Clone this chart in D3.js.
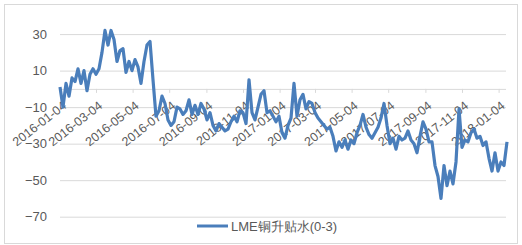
<!DOCTYPE html>
<html>
<head>
<meta charset="utf-8">
<script src="https://cdn.jsdelivr.net/npm/d3@7"></script>
<style>
  html, body { margin: 0; padding: 0; background: #fff; }
  svg text { font-family: "Liberation Sans", Arial, sans-serif; fill: #595959; }
</style>
</head>
<body>
<script>
const w = 522;
const h = 245;

const seriesName = 'LME铜升贴水(0-3)';
const startDate = '2016-01-04';
const stepDays = 5;

const values = [
	1, -10, 3, -4, 6, 4, 11, 3, 10, -1,
	8, 11, 8, 11, 20, 32, 24, 32, 27, 15,
	21, 22, 9, 15, 10, 16, 12, 3, 15, 24,
	26, 5, -15, -12, -4, -8, -17, -20, -18, -10,
	-11, -14, -12, -6, -14, -9, -14, -8, -11, -17,
	-13, -20, -23, -19, -21, -23, -22, -18, -15, -18,
	-12, -13, -19, 5, -13, -17, -10, -3, -1, -13,
	-12, -15, -18, -15, -24, -27, -20, -16, 3, -15,
	-6, -3, -11, -7, -8, -13, -16, -18, -20, -22,
	-21, -26, -34, -29, -32, -28, -33, -28, -30, -24,
	-20, -14, -21, -25, -27, -24, -21, -16, -8, -20,
	-30, -27, -33, -26, -28, -27, -23, -28, -30, -35,
	-26, -18, -22, -29, -29, -42, -48, -60, -42, -53,
	-45, -52, -40, -11, -32, -28, -29, -24, -22, -27,
	-26, -31, -29, -38, -45, -35, -45, -40, -42, -29
];

const tickLabels = [
	'2016-01-04', '2016-03-04', '2016-05-04', '2016-07-04', '2016-09-04', '2016-11-04',
	'2017-01-04', '2017-03-04', '2017-05-04', '2017-07-04', '2017-09-04', '2017-11-04',
	'2018-01-04'
];

const yTicks = [30, 10, -10, -30, -50, -70];

const parse = d3.timeParse('%Y-%m-%d');
const fmt = d3.timeFormat('%Y-%m-%d');
const start = parse(startDate);
const data = values.map((v, i) => ({ date: d3.timeDay.offset(start, i * stepDays), value: v }));

const svg = d3.select('body').append('svg')
	.attr('width', w)
	.attr('height', h);

svg.append('rect')
	.attr('x', 4.5)
	.attr('y', 4.5)
	.attr('width', 513)
	.attr('height', 239)
	.attr('fill', '#fff')
	.attr('stroke', '#d9d9d9');

const x = d3.scaleTime()
	.domain(d3.extent(data, d => d.date))
	.range([60, 507]);

const y = d3.scaleLinear()
	.domain([-70, 30])
	.range([216.7, 34.1]);

// gridlines + y labels
const yAxis = d3.axisLeft(y)
	.tickValues(yTicks)
	.tickSize(-446)
	.tickPadding(13);

svg.append('g')
	.attr('transform', 'translate(60,0)')
	.call(yAxis)
	.call(g => g.select('.domain').remove())
	.call(g => g.selectAll('line').attr('stroke', '#d9d9d9'))
	.call(g => g.selectAll('text').attr('font-size', 13).attr('fill', '#595959'));

// x axis on the zero line
const xAxis = d3.axisBottom(x)
	.tickValues(tickLabels.map(parse))
	.tickFormat(fmt)
	.tickSize(4)
	.tickSizeOuter(0);

const xg = svg.append('g')
	.attr('transform', `translate(0,${y(0)})`)
	.call(xAxis);

xg.select('.domain').attr('stroke', '#d9d9d9').attr('d', `M60,0.5H506`);
xg.selectAll('line').attr('stroke', '#d9d9d9');
xg.selectAll('text')
	.attr('font-size', 12.5)
	.attr('fill', '#595959')
	.attr('text-anchor', 'end')
	.attr('transform', 'translate(4,15) rotate(-38)')
	.attr('dy', '0.35em')
	.attr('y', 0)
	.attr('x', 0);

const line = d3.line()
	.x(d => x(d.date))
	.y(d => y(d.value));

svg.append('path')
	.datum(data)
	.attr('d', line)
	.attr('fill', 'none')
	.attr('stroke', '#4a7ebb')
	.attr('stroke-width', 3.2)
	.attr('stroke-linejoin', 'round');

// legend
const legend = svg.append('g').attr('transform', 'translate(197,226)');
legend.append('line')
	.attr('x1', 0).attr('x2', 31)
	.attr('stroke', '#4a7ebb')
	.attr('stroke-width', 3);
legend.append('text')
	.attr('x', 34)
	.attr('dy', '0.35em')
	.attr('font-size', 13)
	.text(seriesName);
</script>
</body>
</html>
